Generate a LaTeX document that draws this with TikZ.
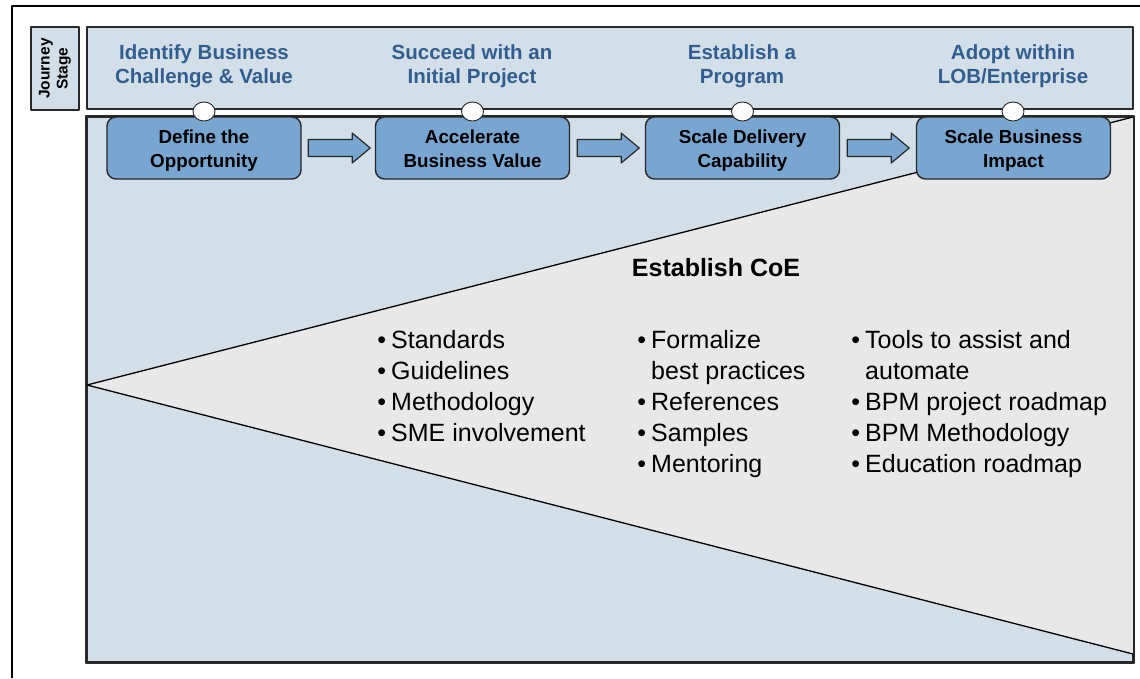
\documentclass[tikz,border=0pt]{standalone}
\usepackage{fontspec}
\setmainfont{Liberation Sans}
\usetikzlibrary{calc,shapes.geometric}
\definecolor{bgblue}{RGB}{210,223,232}
\definecolor{trigrey}{RGB}{232,232,232}
\definecolor{stepblue}{RGB}{120,166,209}
\definecolor{headblue}{RGB}{50,94,143}
\definecolor{darkline}{RGB}{40,40,40}
\begin{document}
\begin{tikzpicture}[x=1pt,y=-1pt,line join=round,
  frame/.style={draw=black,line width=1.2pt},
  panel/.style={draw=darkline,line width=1.8pt,fill=bgblue,inner sep=0pt},
  panelborder/.style={draw=darkline,line width=1.8pt},
  tri/.style={fill=trigrey},
  triedge/.style={draw=black,line width=1.3pt},
  stagetext/.style={text=headblue,font=\fontsize{20.5}{24}\selectfont\bfseries,align=center,anchor=base,inner sep=0pt},
  stepbox/.style={draw=darkline,line width=1.4pt,fill=stepblue,rounded corners=9pt,minimum width=194pt,minimum height=62pt,inner sep=0pt},
  steptext/.style={font=\fontsize{18.8}{23.5}\selectfont\bfseries,align=center,anchor=base,inner sep=0pt},
  marker/.style={ellipse,draw=darkline,line width=0.9pt,fill=white,minimum width=22pt,minimum height=19pt,inner sep=0pt},
  arrowstyle/.style={draw=darkline,line width=1.2pt,fill=stepblue},
  bullets/.style={font=\fontsize{25}{31}\selectfont,align=left,anchor=base west,inner sep=0pt},
  title/.style={font=\fontsize{25}{30}\selectfont\bfseries,anchor=base,inner sep=0pt},
  barrow/.pic={\draw[arrowstyle] (0,-8.5) -- (44,-8.5) -- (44,-15) -- (62,0) -- (44,15) -- (44,8.5) -- (0,8.5) -- cycle;}
]
\newcommand{\bul}{\llap{\textbullet\hspace{5pt}}}
\useasboundingbox (0,0) rectangle (1140,678);
% outer frame
\coordinate (fb) at (12,678);
\coordinate (ftl) at (12,6);
\coordinate (ftr) at (1140,6);
\draw[frame] (fb) -- (ftl) -- (ftr);
% journey stage label
\node[panel,minimum width=48pt,minimum height=83pt] (js) at (55,68.5) {};
\node[rotate=90,font=\fontsize{15.5}{18}\selectfont\bfseries,align=center,inner sep=0pt] at (js.center) {Journey\\Stage};
% header panel
\node[panel,minimum width=1046pt,minimum height=82pt] (hdr) at (610,68) {};
% main panel
\node[panel,minimum width=1046pt,minimum height=545pt] (main) at (610,389.5) {};
% triangle
\coordinate (apex) at (87,385);
\coordinate (tr) at (1133,117);
\coordinate (br) at (1133,654);
\fill[tri] (apex) -- (tr) -- (br) -- cycle;
\draw[triedge] (tr) -- (apex) -- (br);
\draw[panelborder] (main.north west) rectangle (main.south east);
% stage titles (anchor = baseline of last line)
\node[stagetext] (s1) at (204,83) {Identify Business\\Challenge \& Value};
\node[stagetext] (s2) at (472,83) {Succeed with an\\Initial Project};
\node[stagetext] (s3) at (742,83) {Establish a\\Program};
\node[stagetext] (s4) at (1013,83) {Adopt within\\LOB/Enterprise};
% step boxes
\node[stepbox] (b1) at (204,148) {};
\node[stepbox] (b2) at (472.5,148) {};
\node[stepbox] (b3) at (742.5,148) {};
\node[stepbox] (b4) at (1013.5,148) {};
\node[steptext] at ($(b1.north)+(0,51)$) {Define the\\Opportunity};
\node[steptext] at ($(b2.north)+(0,51)$) {Accelerate\\Business Value};
\node[steptext] at ($(b3.north)+(0,51)$) {Scale Delivery\\Capability};
\node[steptext] at ($(b4.north)+(0,51)$) {Scale Business\\Impact};
% block arrows
\pic at ($(b1.east)+(6.5,0)$) {barrow};
\pic at ($(b2.east)+(7,0)$) {barrow};
\pic at ($(b3.east)+(7,0)$) {barrow};
% markers
\node[marker] (m1) at (204,111.5) {};
\node[marker] (m2) at (472.5,111.5) {};
\node[marker] (m3) at (742.5,111.5) {};
\node[marker] (m4) at (1013,111.5) {};
% CoE content
\node[title] (coe) at (716,276) {Establish CoE};
\node[bullets] (c1) at (391,441) {\bul Standards\\\bul Guidelines\\\bul Methodology\\\bul SME involvement};
\node[bullets] (c2) at (651,472) {\bul Formalize\\best practices\\\bul References\\\bul Samples\\\bul Mentoring};
\node[bullets] (c3) at (865,472) {\bul Tools to assist and\\automate\\\bul BPM project roadmap\\\bul BPM Methodology\\\bul Education roadmap};
\end{tikzpicture}
\end{document}
